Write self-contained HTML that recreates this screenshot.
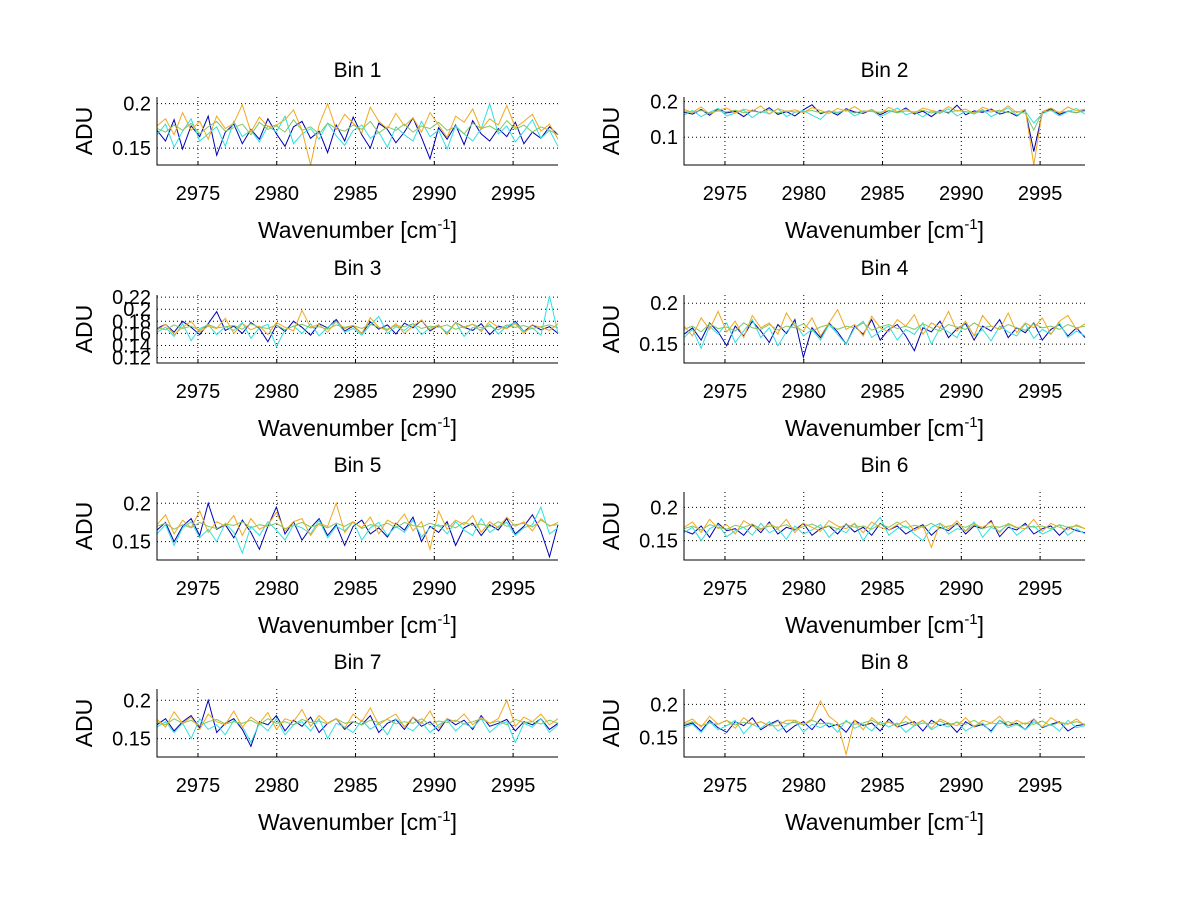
<!DOCTYPE html>
<html><head><meta charset="utf-8">
<style>
html,body{margin:0;padding:0;background:#fff;}
svg{display:block;font-family:"Liberation Sans",sans-serif;}
</style></head>
<body>
<svg id="fig" width="1200" height="901" viewBox="0 0 1200 901" xmlns="http://www.w3.org/2000/svg"></svg>
<script>
const binTitles = ["Bin 1","Bin 2","Bin 3","Bin 4","Bin 5","Bin 6","Bin 7","Bin 8"];
const xTicks = [2975,2980,2985,2990,2995];
const xRange = [2972.4, 2997.85];
const yRanges = [[0.131,0.2075],[0.022,0.213],[0.111,0.2235],[0.127,0.21],[0.126,0.2147],[0.121,0.223],[0.126,0.2147],[0.121,0.223]];
const yTicks = [[0.15,0.2],[0.1,0.2],[0.12,0.14,0.16,0.18,0.2,0.22],[0.15,0.2],[0.15,0.2],[0.15,0.2],[0.15,0.2],[0.15,0.2]];
const seriesNames = ["blue","cyan","green","orange"];
const seriesColors = ["#0000b4","#30e0e0","#80c860","#f0a820"];
// values per bin: [blue, cyan, green, orange]
const bin1 = [
[.170,.158,.182,.149,.175,.163,.186,.142,.168,.177,.155,.171,.160,.183,.166,.152,.174,.180,.161,.169,.145,.176,.158,.185,.165,.150,.178,.171,.156,.168,.184,.162,.138,.173,.160,.176,.154,.181,.166,.158,.172,.163,.179,.155,.168,.161,.174,.165],
[.165,.177,.151,.169,.183,.158,.166,.174,.152,.180,.163,.170,.157,.175,.168,.186,.155,.166,.172,.160,.178,.164,.153,.170,.176,.161,.168,.151,.174,.165,.158,.180,.163,.170,.149,.175,.166,.158,.172,.200,.166,.175,.157,.169,.182,.161,.170,.152],
[.172,.168,.176,.170,.178,.166,.174,.180,.169,.173,.177,.165,.179,.171,.175,.168,.182,.170,.174,.166,.178,.172,.169,.176,.171,.180,.167,.174,.170,.177,.168,.175,.172,.179,.170,.174,.166,.178,.172,.175,.169,.181,.171,.176,.168,.174,.170,.165],
[.175,.183,.165,.190,.170,.180,.160,.186,.172,.178,.199,.168,.185,.174,.176,.182,.193,.170,.131,.176,.200,.171,.188,.178,.167,.196,.180,.172,.189,.175,.184,.168,.190,.176,.162,.186,.179,.194,.171,.183,.176,.198,.173,.180,.188,.169,.177,.160]];
const bin2 = [
[.170,.165,.178,.162,.180,.168,.173,.158,.176,.169,.183,.164,.172,.160,.177,.191,.166,.174,.162,.180,.171,.167,.178,.163,.175,.169,.182,.165,.173,.158,.176,.168,.190,.163,.174,.170,.179,.165,.172,.160,.176,.060,.168,.180,.164,.173,.169,.176],
[.162,.175,.158,.170,.181,.160,.168,.176,.155,.172,.166,.180,.158,.170,.175,.162,.150,.173,.167,.178,.160,.171,.176,.158,.169,.182,.163,.171,.157,.174,.167,.180,.160,.172,.165,.178,.158,.170,.183,.162,.173,.140,.166,.176,.160,.172,.181,.165],
[.172,.170,.175,.168,.174,.171,.176,.169,.173,.170,.177,.168,.174,.171,.172,.175,.169,.173,.170,.176,.168,.174,.172,.170,.175,.169,.174,.171,.176,.168,.173,.170,.175,.172,.169,.174,.171,.176,.169,.173,.167,.120,.171,.175,.170,.173,.169,.174],
[.178,.170,.185,.165,.176,.182,.168,.179,.173,.188,.165,.180,.172,.177,.169,.183,.175,.167,.181,.173,.186,.170,.178,.166,.184,.172,.179,.168,.182,.175,.170,.186,.173,.179,.167,.184,.176,.171,.188,.169,.178,.022,.172,.182,.168,.185,.174,.179]];
const bin3 = [
[.168,.175,.162,.180,.170,.158,.176,.196,.165,.172,.160,.178,.168,.146,.174,.163,.180,.170,.157,.176,.169,.183,.164,.172,.160,.179,.167,.174,.159,.177,.169,.182,.164,.173,.161,.178,.170,.165,.176,.158,.172,.168,.180,.163,.174,.166,.171,.160],
[.162,.170,.155,.176,.148,.168,.174,.158,.171,.165,.178,.152,.169,.175,.138,.166,.172,.160,.176,.156,.170,.180,.162,.168,.157,.174,.188,.160,.171,.165,.176,.158,.169,.174,.161,.178,.155,.170,.166,.175,.159,.172,.178,.163,.169,.157,.222,.160],
[.170,.166,.174,.168,.172,.165,.175,.169,.171,.173,.167,.176,.170,.168,.174,.166,.172,.175,.169,.171,.167,.174,.170,.173,.168,.175,.170,.167,.173,.171,.176,.168,.172,.170,.174,.167,.171,.175,.169,.172,.166,.174,.170,.173,.168,.171,.174,.169],
[.165,.175,.158,.170,.180,.162,.172,.168,.185,.160,.176,.166,.172,.158,.178,.170,.164,.198,.170,.175,.162,.180,.168,.173,.160,.186,.170,.165,.176,.160,.172,.182,.166,.174,.158,.178,.169,.175,.163,.180,.170,.168,.176,.160,.174,.170,.165,.176]];
const bin4 = [
[.162,.170,.155,.176,.165,.148,.172,.160,.178,.166,.152,.174,.163,.180,.134,.170,.158,.176,.165,.150,.172,.162,.180,.155,.168,.174,.160,.142,.170,.165,.178,.158,.169,.175,.155,.172,.166,.180,.158,.170,.164,.176,.155,.168,.174,.160,.170,.158],
[.158,.168,.145,.172,.162,.176,.152,.166,.180,.158,.170,.148,.165,.176,.160,.168,.155,.174,.162,.150,.170,.178,.158,.166,.172,.155,.168,.162,.176,.150,.170,.165,.158,.178,.160,.168,.154,.172,.165,.160,.175,.157,.168,.162,.176,.158,.166,.160],
[.168,.172,.165,.175,.169,.171,.166,.176,.170,.168,.174,.167,.172,.170,.175,.166,.171,.174,.168,.172,.170,.176,.167,.171,.174,.169,.172,.168,.175,.170,.166,.174,.171,.168,.176,.170,.172,.168,.174,.170,.167,.175,.170,.172,.168,.174,.170,.172],
[.172,.160,.182,.168,.190,.165,.178,.158,.185,.170,.176,.162,.188,.172,.166,.182,.160,.176,.192,.168,.174,.160,.184,.170,.165,.180,.172,.186,.162,.176,.170,.190,.166,.178,.160,.185,.172,.168,.188,.164,.176,.170,.182,.162,.178,.185,.168,.175]];
const bin5 = [
[.165,.175,.150,.170,.180,.158,.200,.166,.172,.155,.178,.162,.140,.170,.195,.160,.176,.152,.168,.180,.158,.172,.145,.170,.178,.160,.168,.156,.174,.165,.182,.150,.170,.162,.176,.145,.168,.174,.158,.172,.165,.180,.160,.170,.185,.164,.130,.172],
[.160,.172,.145,.168,.176,.155,.166,.150,.174,.162,.135,.170,.158,.176,.165,.152,.172,.168,.160,.178,.155,.170,.164,.176,.152,.168,.175,.158,.170,.162,.178,.156,.168,.172,.160,.176,.165,.158,.180,.162,.170,.175,.158,.168,.172,.195,.160,.168],
[.170,.174,.166,.172,.168,.175,.170,.167,.173,.171,.176,.168,.172,.170,.174,.167,.171,.175,.169,.172,.168,.174,.170,.176,.167,.172,.170,.174,.168,.175,.171,.169,.174,.170,.172,.168,.175,.171,.173,.169,.176,.170,.172,.174,.169,.178,.171,.172],
[.172,.185,.160,.178,.168,.190,.162,.176,.170,.184,.158,.180,.166,.172,.188,.164,.176,.180,.158,.174,.170,.200,.162,.176,.168,.182,.160,.178,.172,.186,.164,.176,.140,.190,.166,.178,.172,.184,.162,.176,.168,.182,.170,.176,.164,.180,.170,.175]];
const bin6 = [
[.165,.160,.172,.155,.176,.165,.168,.158,.174,.162,.178,.160,.170,.166,.176,.158,.168,.172,.160,.175,.163,.170,.158,.176,.166,.172,.160,.168,.174,.158,.170,.165,.176,.160,.172,.168,.180,.156,.170,.166,.176,.160,.168,.172,.158,.170,.165,.162],
[.162,.170,.150,.168,.174,.156,.165,.170,.158,.176,.162,.168,.152,.172,.160,.166,.174,.155,.168,.162,.176,.150,.170,.185,.158,.168,.172,.160,.150,.170,.176,.160,.168,.165,.178,.155,.170,.164,.174,.158,.168,.172,.160,.166,.174,.158,.168,.160],
[.168,.172,.166,.174,.170,.167,.173,.170,.175,.168,.172,.170,.174,.167,.171,.175,.169,.172,.168,.174,.170,.172,.167,.175,.170,.178,.169,.173,.170,.176,.168,.172,.174,.170,.176,.168,.172,.170,.175,.169,.173,.170,.172,.168,.174,.170,.172,.168],
[.170,.178,.162,.182,.168,.174,.160,.180,.172,.166,.176,.168,.182,.162,.176,.170,.164,.180,.172,.168,.176,.162,.178,.170,.166,.174,.180,.165,.172,.140,.176,.168,.180,.164,.174,.170,.178,.162,.176,.170,.168,.182,.164,.176,.170,.166,.174,.168]];
const bin7 = [
[.168,.176,.160,.172,.180,.164,.200,.158,.170,.176,.162,.140,.172,.168,.180,.160,.174,.166,.178,.158,.170,.176,.162,.172,.168,.180,.158,.170,.175,.162,.178,.166,.172,.160,.176,.168,.174,.162,.180,.166,.170,.175,.160,.172,.168,.176,.162,.170],
[.165,.172,.158,.170,.150,.176,.162,.168,.155,.174,.166,.145,.170,.160,.176,.155,.168,.172,.160,.176,.150,.170,.165,.158,.174,.162,.170,.155,.176,.166,.160,.172,.158,.168,.174,.160,.170,.164,.176,.158,.168,.172,.145,.170,.165,.176,.158,.168],
[.172,.168,.176,.170,.174,.167,.172,.175,.169,.172,.170,.174,.168,.176,.170,.172,.168,.175,.171,.173,.169,.176,.170,.172,.168,.174,.171,.175,.169,.172,.170,.176,.168,.173,.171,.174,.169,.172,.176,.170,.173,.168,.175,.171,.172,.169,.174,.170],
[.175,.165,.185,.170,.178,.162,.182,.172,.168,.186,.165,.178,.170,.184,.162,.176,.172,.188,.166,.180,.170,.176,.164,.182,.172,.190,.168,.176,.182,.165,.178,.170,.186,.164,.176,.172,.182,.168,.178,.170,.176,.200,.166,.178,.172,.182,.168,.176]];
const bin8 = [
[.168,.172,.160,.176,.165,.158,.174,.168,.180,.162,.170,.176,.158,.168,.174,.162,.178,.166,.170,.158,.176,.168,.172,.160,.178,.166,.170,.174,.160,.176,.168,.172,.158,.174,.166,.170,.160,.176,.168,.172,.162,.178,.165,.170,.174,.160,.168,.170],
[.165,.170,.158,.174,.162,.168,.176,.156,.170,.164,.174,.160,.168,.176,.158,.170,.165,.172,.158,.176,.164,.170,.160,.174,.166,.172,.158,.168,.176,.162,.170,.166,.174,.160,.168,.172,.158,.176,.165,.170,.162,.174,.166,.170,.160,.176,.165,.168],
[.170,.174,.168,.172,.170,.176,.169,.173,.170,.174,.168,.175,.171,.173,.169,.176,.171,.172,.168,.174,.170,.172,.176,.169,.173,.170,.174,.168,.172,.171,.175,.169,.173,.170,.176,.168,.172,.171,.174,.169,.172,.170,.175,.168,.173,.171,.174,.170],
[.172,.178,.166,.182,.170,.176,.164,.180,.170,.174,.168,.168,.176,.176,.170,.178,.205,.182,.172,.125,.176,.162,.180,.170,.174,.166,.182,.170,.176,.164,.178,.172,.168,.180,.166,.176,.172,.182,.168,.176,.170,.178,.166,.180,.172,.170,.178,.168]];
const binData = [bin1,bin2,bin3,bin4,bin5,bin6,bin7,bin8];

const NS = "http://www.w3.org/2000/svg";
const svg = document.getElementById("fig");
const colLeft = [157, 684], axW = 401;
const rowTop = [97, 295, 492, 689], axH = 68;
function mk(tag, attrs, parent) {
  const e = document.createElementNS(NS, tag);
  for (const k in attrs) e.setAttribute(k, attrs[k]);
  (parent || svg).appendChild(e);
  return e;
}
binTitles.forEach((title, b) => {
  const L = colLeft[b % 2], T = rowTop[Math.floor(b / 2)], B = T + axH, R = L + axW;
  const yr = yRanges[b];
  const xs = v => L + (v - xRange[0]) / (xRange[1] - xRange[0]) * axW;
  const ys = v => B - (v - yr[0]) / (yr[1] - yr[0]) * axH;
  const g = mk("g", {});
  
  
  const t = mk("text", {x: L + axW / 2, y: T - 20, "text-anchor": "middle", "font-size": 21, fill: "#000"}, g);
  t.textContent = title;
  
  
  xTicks.forEach(v => {
    const gl = mk("line", {x1: xs(v), x2: xs(v), y1: T, y2: B, stroke: "#000", "stroke-width": 1, "stroke-dasharray": "1,3"}, g);
    
    
    const tk = mk("line", {x1: xs(v), x2: xs(v), y1: B, y2: B - 4, stroke: "#000"}, g);
    
    
    const tl = mk("text", {x: xs(v), y: B + 35, "text-anchor": "middle", "font-size": 20, fill: "#000"}, g);
    tl.textContent = v;
    
    
  });
  yTicks[b].forEach(v => {
    const gl = mk("line", {x1: L, x2: R, y1: ys(v), y2: ys(v), stroke: "#000", "stroke-width": 1, "stroke-dasharray": "1,3"}, g);
    
    
    const tl = mk("text", {x: L - 6, y: ys(v) + 7, "text-anchor": "end", "font-size": 20, fill: "#000"}, g);
    tl.textContent = String(v);
    
    
  });
  binData[b].forEach((vals, s) => {
    const n = vals.length;
    const pts = vals.map((v, i) => xs(xRange[0] + i * (xRange[1] - xRange[0]) / (n - 1)).toFixed(1) + "," + ys(v).toFixed(1)).join(" ");
    const pl = mk("polyline", {points: pts, fill: "none", stroke: seriesColors[s], "stroke-width": 1}, g);
    
    
  });
  const ax = mk("path", {d: `M${L},${T}V${B}H${R}`, fill: "none", stroke: "#000", "stroke-width": 1}, g);
  
  
  const xl = mk("text", {x: L + axW / 2, y: B + 73, "text-anchor": "middle", "font-size": 23, fill: "#000"}, g);
  xl.innerHTML = 'Wavenumber [cm<tspan dy="-9" font-size="15">-1</tspan><tspan dy="9">]</tspan>';
  
  
  const yl = mk("text", {x: 0, y: 0, "text-anchor": "middle", "font-size": 23, fill: "#000", transform: `translate(${L - 65},${T + axH / 2}) rotate(-90)`}, g);
  yl.textContent = "ADU";
  
  
});
</script>
</body></html>
